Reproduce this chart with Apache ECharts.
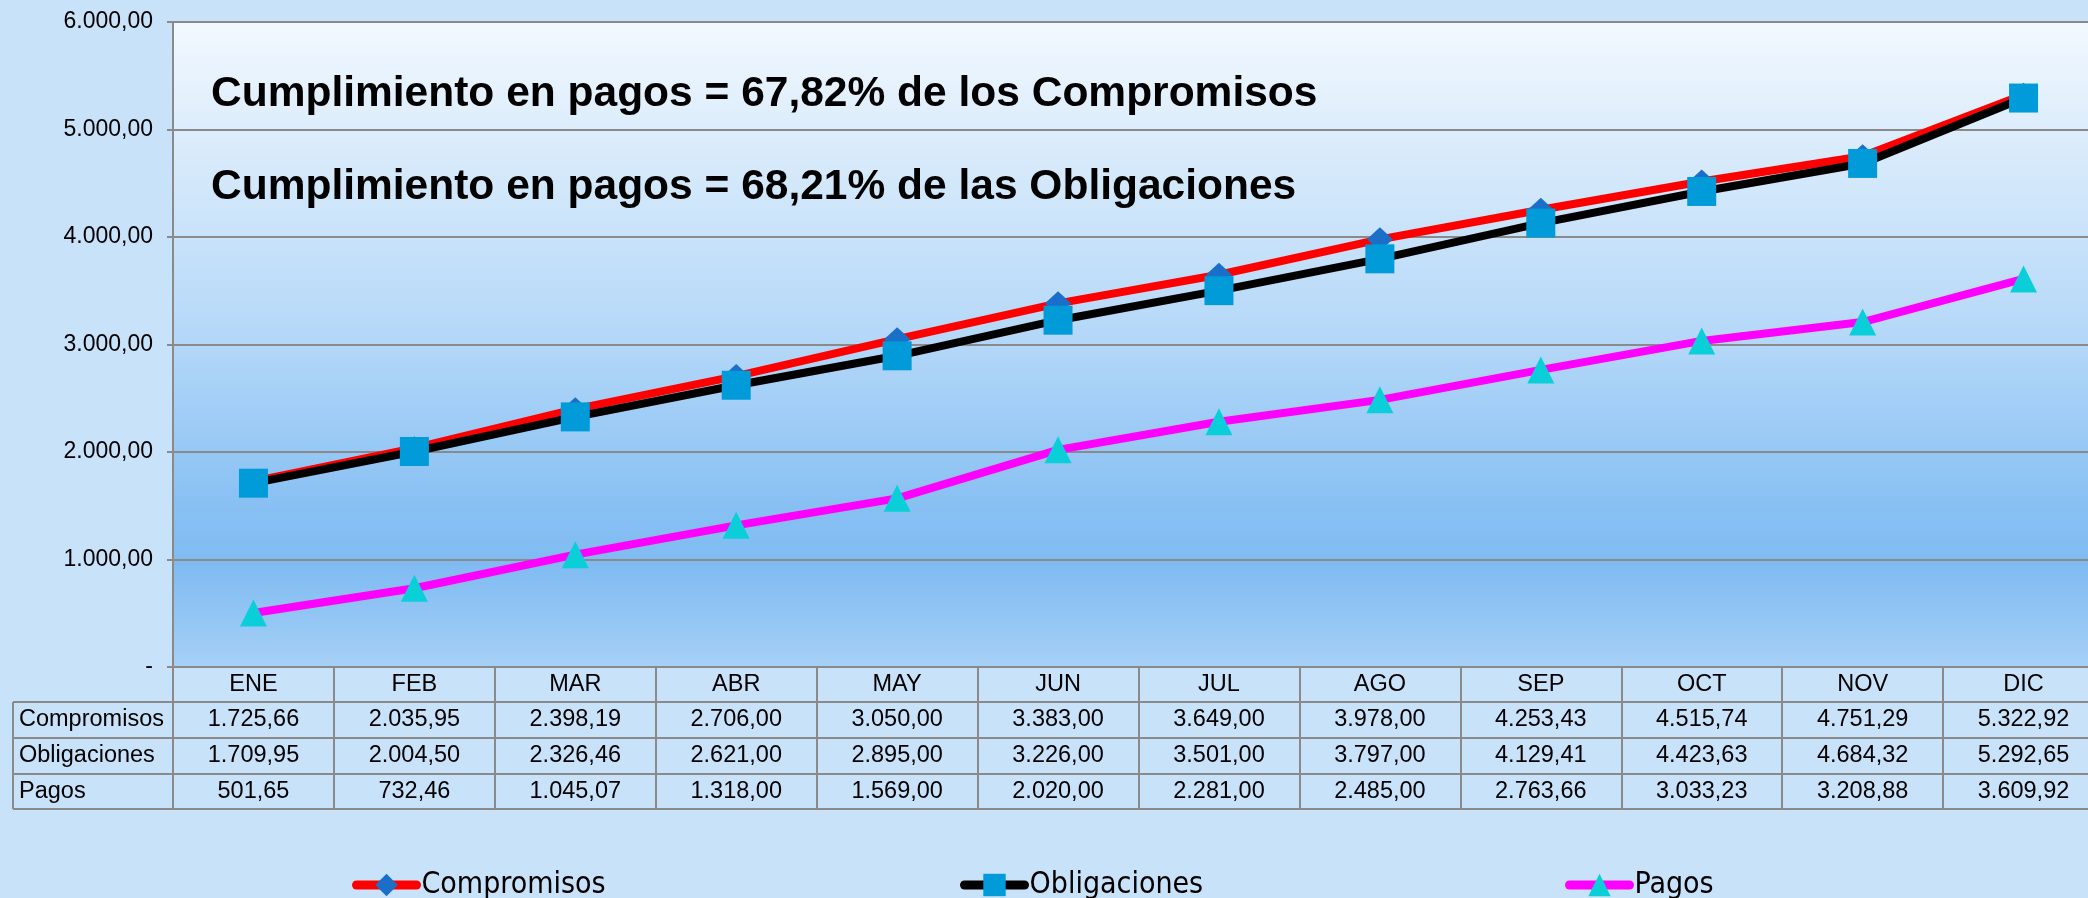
<!DOCTYPE html>
<html>
<head>
<meta charset="utf-8">
<script src="https://cdn.jsdelivr.net/npm/echarts@6/dist/echarts.min.js"></script>
<style>
html,body{margin:0;padding:0;background:#c8e2fa;}
#c{width:2088px;height:898px;}
</style>
</head>
<body>
<div id="c"></div>
<script>
const categories = ['ENE','FEB','MAR','ABR','MAY','JUN','JUL','AGO','SEP','OCT','NOV','DIC'];
const seriesNames = ['Compromisos','Obligaciones','Pagos'];
const compromisos = [1725.66,2035.95,2398.19,2706.00,3050.00,3383.00,3649.00,3978.00,4253.43,4515.74,4751.29,5322.92];
const obligaciones = [1709.95,2004.50,2326.46,2621.00,2895.00,3226.00,3501.00,3797.00,4129.41,4423.63,4684.32,5292.65];
const pagos = [501.65,732.46,1045.07,1318.00,1569.00,2020.00,2281.00,2485.00,2763.66,3033.23,3208.88,3609.92];
const notes = ['Cumplimiento en pagos = 67,82% de los Compromisos','Cumplimiento en pagos = 68,21% de las Obligaciones'];
const yMin = 0, yMax = 6000, yStep = 1000;

function fmt(v){
  const parts = v.toFixed(2).split('.');
  return parts[0].replace(/\B(?=(\d{3})+(?!\d))/g,'.') + ',' + parts[1];
}

const GRAY = '#8a8a8a';
const FONT = '"Liberation Sans", Arial, sans-serif';
const rowData = [compromisos, obligaciones, pagos];

const chart = echarts.init(document.getElementById('c'), null, {renderer:'canvas'});

const GL = 173, GT = 22, GB = 231;
const plotBottom = 898 - GB; // 667
const rowOffsets = [35, 71, 107];
const rowH = [36, 36, 35];

function tableAxis(offset, tickLen, formatter, showLabel){
  return {
    type:'category', data:categories, position:'bottom', offset:offset,
    boundaryGap:true,
    axisLine:{show:true, lineStyle:{color:GRAY, width:2}},
    axisTick:{show:tickLen>0, interval:0, length:tickLen, lineStyle:{color:GRAY, width:2}},
    axisLabel:{show:showLabel, interval:0, color:'#000', fontFamily:FONT, fontSize:23.5,
      verticalAlign:'middle', margin: tickLen/2, formatter:formatter, hideOverlap:false},
    splitLine:{show:false}
  };
}

const xAxes = [tableAxis(0, 35, v => v, true)];
rowData.forEach((arr,i)=>{
  xAxes.push(tableAxis(rowOffsets[i], rowH[i], (v, idx) => fmt(arr[idx]), true));
});
xAxes.push(tableAxis(142, 0, v => '', false));

const graphics = [];
notes.forEach((t,i)=>{
  graphics.push({type:'text', left:211, top:[73,166][i],
    style:{text:t, font:'bold 42.5px ' + FONT, fill:'#000'}});
});
// row label column borders
const tableLeft = 13;
const lineYs = [plotBottom+35, plotBottom+71, plotBottom+107, plotBottom+142];
lineYs.forEach(y=>{
  graphics.push({type:'line', shape:{x1:tableLeft, y1:y, x2:GL, y2:y}, style:{stroke:GRAY, lineWidth:2}});
});
graphics.push({type:'line', shape:{x1:tableLeft, y1:lineYs[0], x2:tableLeft, y2:lineYs[3]}, style:{stroke:GRAY, lineWidth:2}});
seriesNames.forEach((n,i)=>{
  graphics.push({type:'text', x:19, y:(lineYs[i]+lineYs[i+1])/2,
    style:{text:n, font:'23.5px ' + FONT, fill:'#000', verticalAlign:'middle', align:'left'}});
});

const legendBase = {itemWidth:60, itemHeight:28, top:865, selectedMode:false,
  textStyle:{fontFamily:'"DejaVu Sans Condensed", "DejaVu Sans", sans-serif', fontSize:30, color:'#000'},
  lineStyle:{width:9, cap:'round'}};

const option = {
  backgroundColor:'#c8e2fa',
  animation:false,
  grid:{left:GL, top:GT, right:-16, bottom:GB, show:true, borderWidth:0, outerBoundsMode:'none',
    backgroundColor: new echarts.graphic.LinearGradient(0,0,0,1,[
      {offset:0, color:'#f2f8ff'},
      {offset:0.2, color:'#d9ebfb'},
      {offset:0.5, color:'#b3d7f8'},
      {offset:0.75, color:'#88c0f3'},
      {offset:0.84, color:'#7fbbf2'},
      {offset:1, color:'#a6d0f7'}
    ])},
  legend:[
    Object.assign({}, legendBase, {data:[seriesNames[0]], left:347}),
    Object.assign({}, legendBase, {data:[seriesNames[1]], left:955}),
    Object.assign({}, legendBase, {data:[seriesNames[2]], left:1560})
  ],
  xAxis: xAxes,
  yAxis:{type:'value', min:yMin, max:yMax, interval:yStep,
    axisLine:{show:true, lineStyle:{color:GRAY, width:2}},
    axisTick:{show:true, length:6, lineStyle:{color:GRAY, width:2}},
    axisLabel:{color:'#000', fontFamily:FONT, fontSize:23, margin:20,
      formatter: v => v === 0 ? '-' : fmt(v)},
    splitLine:{show:true, lineStyle:{color:GRAY, width:2}}
  },
  graphic: graphics,
  series:[
    {name:seriesNames[0], type:'line', data:compromisos, symbol:'diamond', symbolSize:[26,24],
      lineStyle:{color:'#ff0000', width:8, join:'round'}, itemStyle:{color:'#1c6fc8', borderWidth:0}},
    {name:seriesNames[1], type:'line', data:obligaciones, symbol:'rect', symbolSize:29,
      lineStyle:{color:'#000000', width:8, join:'round'}, itemStyle:{color:'#009bd8', borderWidth:0}},
    {name:seriesNames[2], type:'line', data:pagos, symbol:'triangle', symbolSize:27,
      lineStyle:{color:'#ff00ff', width:8, join:'round'}, itemStyle:{color:'#0acfd8', borderWidth:0}}
  ]
};
chart.setOption(option);
</script>
</body>
</html>
